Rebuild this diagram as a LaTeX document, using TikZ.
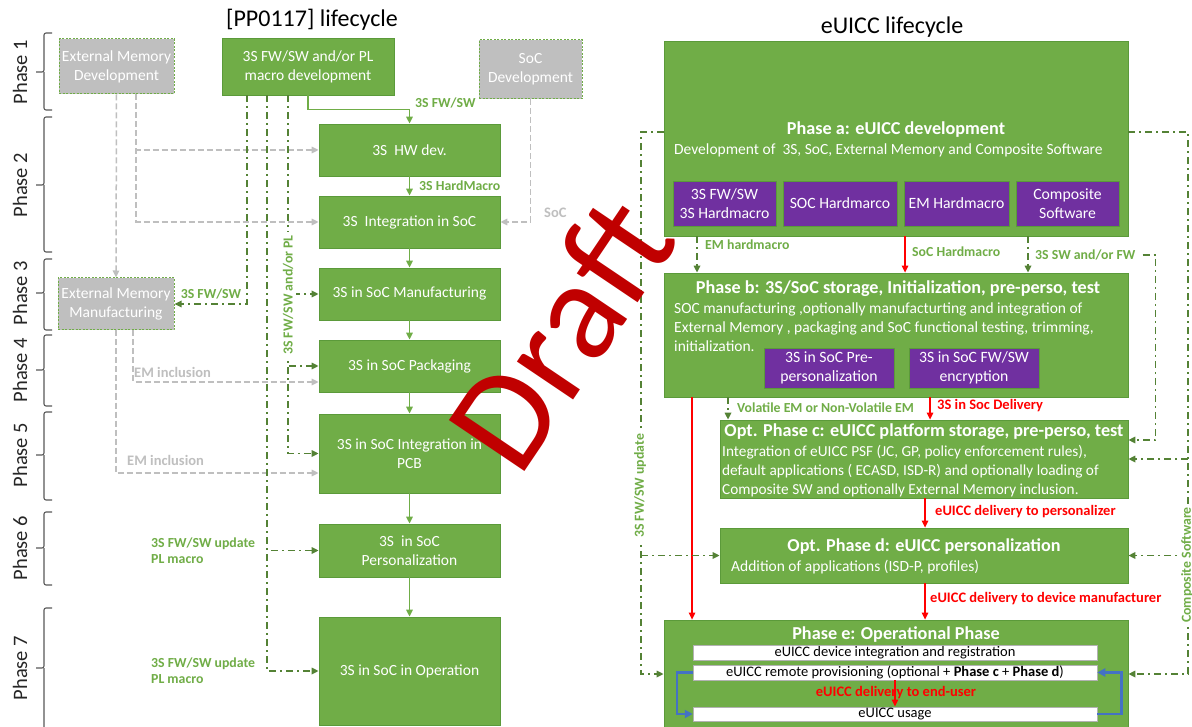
\documentclass[tikz,border=0pt]{standalone}
\usepackage{fontspec}
\setmainfont{Carlito}
\usetikzlibrary{arrows.meta,calc}
\definecolor{gfill}{HTML}{70AD47}
\definecolor{gdraw}{HTML}{5B9A3A}
\definecolor{gline}{HTML}{548235}
\definecolor{glabel}{HTML}{70AD47}
\definecolor{grayA}{HTML}{BFBFBF}
\definecolor{purp}{HTML}{7030A0}
\definecolor{redA}{HTML}{FF0000}
\definecolor{draftred}{HTML}{C00000}
\definecolor{blueA}{HTML}{4472C4}
\definecolor{braceC}{HTML}{595959}
\newcommand\phbrace[3]{%
  \draw[braceC, line width=1.1pt, rounded corners=2pt] (52,#1) -- (44,#1) -- (44,#3) -- (36,#3);
  \draw[braceC, line width=1.1pt, rounded corners=2pt] (52,#2) -- (44,#2) -- (44,#3);}
\tikzset{
  gbox/.style={draw=gdraw, fill=gfill, line width=0.8pt, text=white, align=center,
    font=\fontsize{15.5}{19}\selectfont, inner sep=0pt},
  graybox/.style={draw=gfill, dash pattern=on 2pt off 1.5pt, line width=1pt, fill=grayA, text=white,
    align=center, font=\fontsize{15.5}{19}\selectfont, inner sep=0pt},
  pbox/.style={draw=gdraw, fill=purp, line width=0.8pt, text=white, align=center,
    font=\fontsize{15.7}{19}\selectfont, inner sep=0pt},
  wbar/.style={draw=gray!60, fill=white, line width=0.5pt, text=black, inner sep=0pt,
    font=\fontsize{14.5}{15}\selectfont, minimum width=404, minimum height=14.5},
  arrowtip/.style={-{Triangle[length=7pt,width=6.5pt]}},
  gsolid/.style={draw=gfill, line width=1.5pt, arrowtip},
  ddash/.style={draw=gline, line width=1.6pt, dash pattern=on 7pt off 4pt on 2pt off 4pt},
  ddarr/.style={ddash, arrowtip},
  grayd/.style={draw=grayA, line width=1.5pt, dash pattern=on 6pt off 3pt, arrowtip},
  redarr/.style={draw=redA, line width=1.3pt, arrowtip},
  bluearr/.style={draw=blueA, line width=2.5pt, -{Triangle[length=8pt,width=8pt]}},
  glbl/.style={text=glabel, font=\bfseries\fontsize{13.8}{16}\selectfont, inner sep=1pt},
  grlbl/.style={text=grayA, font=\bfseries\fontsize{14.5}{16}\selectfont, inner sep=1pt},
  rlbl/.style={text=redA, font=\bfseries\fontsize{14.5}{16}\selectfont, inner sep=1pt},
  phlbl/.style={rotate=90, text=black!85, font=\fontsize{20.5}{22}\selectfont},
  wtitle/.style={text=white, font=\bfseries\fontsize{18.2}{20}\selectfont, inner sep=0pt},
  wtext/.style={text=white, font=\fontsize{15.5}{18}\selectfont, inner sep=0pt, anchor=west},
}
\begin{document}
\begin{tikzpicture}[x=1pt,y=-1pt]
\useasboundingbox[fill=white] (0,0) rectangle (1192,727);
% titles
\node[font=\fontsize{24}{26}\selectfont] (tl) at (312,20) {[PP0117] lifecycle};
\node[font=\fontsize{24}{26}\selectfont] (tr) at (892,27) {eUICC lifecycle};
% phases
\node[phlbl] (ph1) at (20,72) {Phase 1};   \phbrace{33}{110}{72}
\node[phlbl] (ph2) at (20,185) {Phase 2};  \phbrace{117}{252}{185}
\node[phlbl] (ph3) at (20,293) {Phase 3};  \phbrace{259}{330}{293}
\node[phlbl] (ph4) at (20,370) {Phase 4};  \phbrace{335}{406}{370}
\node[phlbl] (ph5) at (20,455) {Phase 5};  \phbrace{412}{500}{455}
\node[phlbl] (ph6) at (20,548) {Phase 6};  \phbrace{512}{585}{548}
\node[phlbl] (ph7) at (20,668) {Phase 7};  \phbrace{608}{740}{668}
% left boxes
\node[gbox, minimum width=172, minimum height=57] (dev) at (308,66.5) {3S FW/SW and/or PL\\macro development};
\node[graybox, minimum width=115, minimum height=55] (emdev) at (116.5,66.5) {External Memory\\Development};
\node[graybox, minimum width=103, minimum height=59] (socdev) at (530.5,69.5) {SoC\\Development};
\node[gbox, minimum width=181, minimum height=52] (hw) at (409.5,150) {3S\ \ HW dev.};
\node[gbox, minimum width=181, minimum height=52] (integ) at (409.5,222) {3S\ \ Integration in SoC};
\node[gbox, minimum width=181, minimum height=52] (manu) at (409.5,294) {3S in SoC Manufacturing};
\node[gbox, minimum width=181, minimum height=52] (pack) at (409.5,366) {3S in SoC Packaging};
\node[gbox, minimum width=181, minimum height=79] (pcb) at (409.5,453.5) {3S in SoC Integration in\\PCB};
\node[gbox, minimum width=181, minimum height=53] (pers) at (409.5,550.5) {3S\ \ in SoC\\Personalization};
\node[gbox, minimum width=181, minimum height=108] (oper) at (409.5,671) {3S in SoC in Operation};
\node[graybox, minimum width=116, minimum height=52] (emman) at (116,304) {External Memory\\Manufacturing};
% left solid chain
\draw[gsolid] (dev.south) -- ++(0,14) -| (hw.north);
\node[glbl, anchor=west] (lfw) at (414,103) {3S FW/SW};
\draw[gsolid] (hw) -- (integ);
\node[glbl, anchor=west] (lhm) at (418,186) {3S HardMacro};
\draw[gsolid] (integ) -- (manu);
\draw[gsolid] (manu) -- (pack);
\draw[gsolid] (pack) -- (pcb);
\draw[gsolid] (pcb) -- (pers);
\draw[gsolid] (pers) -- (oper);
% gray dashed
\draw[grayd] (socdev.south) |- (integ.east);
\node[grlbl, anchor=west] (lsoc) at (543,213) {SoC};
\draw[grayd] ($(emdev.south)+(19.5,0)$) |- (hw.west);
\draw[grayd] ($(emdev.south)+(19.5,0)$) |- (integ.west);
\draw[grayd] (emdev.south) -- (emman.north);
\draw[grayd] ($(emman.south)+(17,0)$) |- ($(pack.west)+(0,16)$);
\node[grlbl, anchor=west] (lem1) at (133,372) {EM inclusion};
\draw[grayd] (emman.south) |- ($(pcb.west)+(0,19.5)$);
\node[grlbl, anchor=west] (lem2) at (126,460) {EM inclusion};
% dash-dot green
\draw[ddarr] ($(dev.south)+(-61,0)$) |- (emman.east);
\node[glbl] (l3s) at (211,294) {3S FW/SW};
\draw[ddarr] ($(dev.south)+(-20,0)$) |- (manu.west);
\draw[ddarr] ($(dev.south)+(-20,0)$) |- (pack.west);
\draw[ddarr] ($(dev.south)+(-20,0)$) |- (pcb.west);
\node[glbl, rotate=90, fill=white, inner sep=3pt] (lpl) at (288,295) {3S FW/SW and/or PL};
\draw[ddarr] ($(dev.south)+(-41,0)$) |- (pers.west);
\draw[ddarr] ($(dev.south)+(-41,0)$) |- (oper.west);
\node[glbl, anchor=west, align=left] (lup1) at (150,551) {3S FW/SW update\\PL macro};
\node[glbl, anchor=west, align=left] (lup2) at (150,671) {3S FW/SW update\\PL macro};
% right boxes
\node[gbox, minimum width=464, minimum height=195] (pa) at (896,138.5) {};
\node[wtitle] (pat) at (896,130) {Phase a: eUICC development};
\node[wtext] (pas) at (674,150) {Development of\ \ 3S, SoC, External Memory and Composite Software};
\node[pbox, minimum width=103, minimum height=45] (p1) at (724.5,203.5) {3S FW/SW\\3S Hardmacro};
\node[pbox, minimum width=114, minimum height=45] (p2) at (840,203.5) {SOC Hardmarco};
\node[pbox, minimum width=105, minimum height=45] (p3) at (956.5,203.5) {EM Hardmacro};
\node[pbox, minimum width=103, minimum height=45] (p4) at (1067.5,203.5) {Composite\\Software};
\node[gbox, minimum width=464, minimum height=124] (pb) at (896,335) {};
\node[wtitle] (pbt) at (898,289) {Phase b: 3S/SoC storage, Initialization, pre-perso, test};
\node[wtext] (pb1) at (674,309) {SOC manufacturing ,optionally manufacturting and integration of};
\node[wtext] (pb2) at (674,328) {External Memory , packaging and SoC functional testing, trimming,};
\node[wtext] (pb3) at (674,346) {initialization.};
\node[pbox, minimum width=130, minimum height=40] (pb4) at (829,368) {3S in SoC Pre-\\personalization};
\node[pbox, minimum width=130, minimum height=40] (pb5) at (974,368) {3S in SoC FW/SW\\encryption};
\node[gbox, minimum width=408, minimum height=78] (pc) at (924,459) {};
\node[wtitle] (pct) at (924,432) {Opt. Phase c: eUICC platform storage, pre-perso, test};
\node[wtext, font=\fontsize{15.3}{18}\selectfont] (pc1) at (722,452) {Integration of eUICC PSF (JC, GP, policy enforcement rules),};
\node[wtext, font=\fontsize{15.3}{18}\selectfont] (pc2) at (722,471) {default applications ( ECASD, ISD-R) and optionally loading of};
\node[wtext, font=\fontsize{15.3}{18}\selectfont] (pc3) at (722,490) {Composite SW and optionally External Memory inclusion.};
\node[gbox, minimum width=408, minimum height=55] (pd) at (924,555.5) {};
\node[wtitle] (pdt) at (924,547) {Opt. Phase d: eUICC personalization};
\node[wtext] (pd1) at (731,567) {Addition of applications (ISD-P, profiles)};
\node[gbox, minimum width=464, minimum height=112] (pe) at (896,676) {};
\node[wtitle] (pet) at (896,635) {Phase e: Operational Phase};
\node[wbar] (e1) at (895,652.5) {eUICC device integration and registration};
\node[wbar] (e2) at (895,672.5) {eUICC remote provisioning (optional + \textbf{Phase c} + \textbf{Phase d})};
\node[wbar] (e3) at (895,714) {eUICC usage};
\draw[redarr] (e2.south) -- (e3.north);
\node[rlbl] (lend) at (896,693) {eUICC delivery to end-user};
\draw[bluearr] ($(e2.west)+(0,0)$) -- ++(-16,0) |- (e3.west);
\draw[bluearr] (e3.east) -- ++(24,0) |- (e2.east);
% right connectors
\draw[ddarr] ($(pa.south)+(-199,0)$) -- ($(pb.north)+(-199,0)$);
\node[glbl, anchor=west] (lemh) at (704,245) {EM hardmacro};
\draw[redarr] ($(pa.south)+(9,0)$) -- ($(pb.north)+(9,0)$);
\node[glbl, anchor=west] (lsoch) at (911,252) {SoC Hardmacro};
\draw[ddarr] ($(pa.south)+(132,0)$) -- ($(pb.north)+(132,0)$);
\node[glbl, anchor=west] (lsw) at (1034,255) {3S SW and/or FW};
\draw[ddarr] (lsw.east) ++(6,0) -- ++(13,0) |- ($(pc.east)+(0,-19)$);
\draw[ddarr] ($(pb.south)+(-168,0)$) -- ($(pc.north)+(-196,0)$);
\node[glbl, anchor=west] (lvol) at (736,408) {Volatile EM or Non-Volatile EM};
\draw[redarr] ($(pb.south)+(34,0)$) -- ($(pc.north)+(6,0)$);
\node[rlbl, anchor=west] (ldel) at (936,406) {3S in Soc Delivery};
\draw[redarr] ($(pc.south)+(1,0)$) -- ($(pd.north)+(1,0)$);
\node[rlbl, anchor=west] (lpers) at (934,512) {eUICC delivery to personalizer};
\draw[redarr] ($(pd.south)+(1,0)$) -- ($(pe.north)+(29,0)$);
\node[rlbl, anchor=west] (ldev) at (929,599) {eUICC delivery to device manufacturer};
\draw[redarr] ($(pb.south)+(-204,0)$) -- ($(pe.north)+(-204,0)$);
% outer left / right dash-dot
\coordinate (lt) at (641,132);
\coordinate (rt) at (1188,132);
\draw[ddarr] ($(pa.west)+(0,-6.5)$) -- (lt) |- ($(pe.west)+(0,-2)$);
\draw[ddarr] (lt |- pd.west) -- (pd.west);
\node[glbl, rotate=90, fill=white, inner sep=3pt] (lupd) at (640,486) {3S FW/SW update};
\draw[ddarr] ($(pa.east)+(0,-6.5)$) -- (rt) |- ($(pe.east)+(0,-2)$);
\draw[ddarr] (rt |- pc.east) -- (pc.east);
\draw[ddarr] (rt |- pd.east) -- (pd.east);
\node[glbl, rotate=90, fill=white, inner sep=3pt] (lcs) at (1187,565) {Composite Software};
% watermark
\node[rotate=56, text=draftred, font=\fontsize{142}{142}\selectfont] (draft) at (560,333) {Draft};
\end{tikzpicture}
\end{document}
